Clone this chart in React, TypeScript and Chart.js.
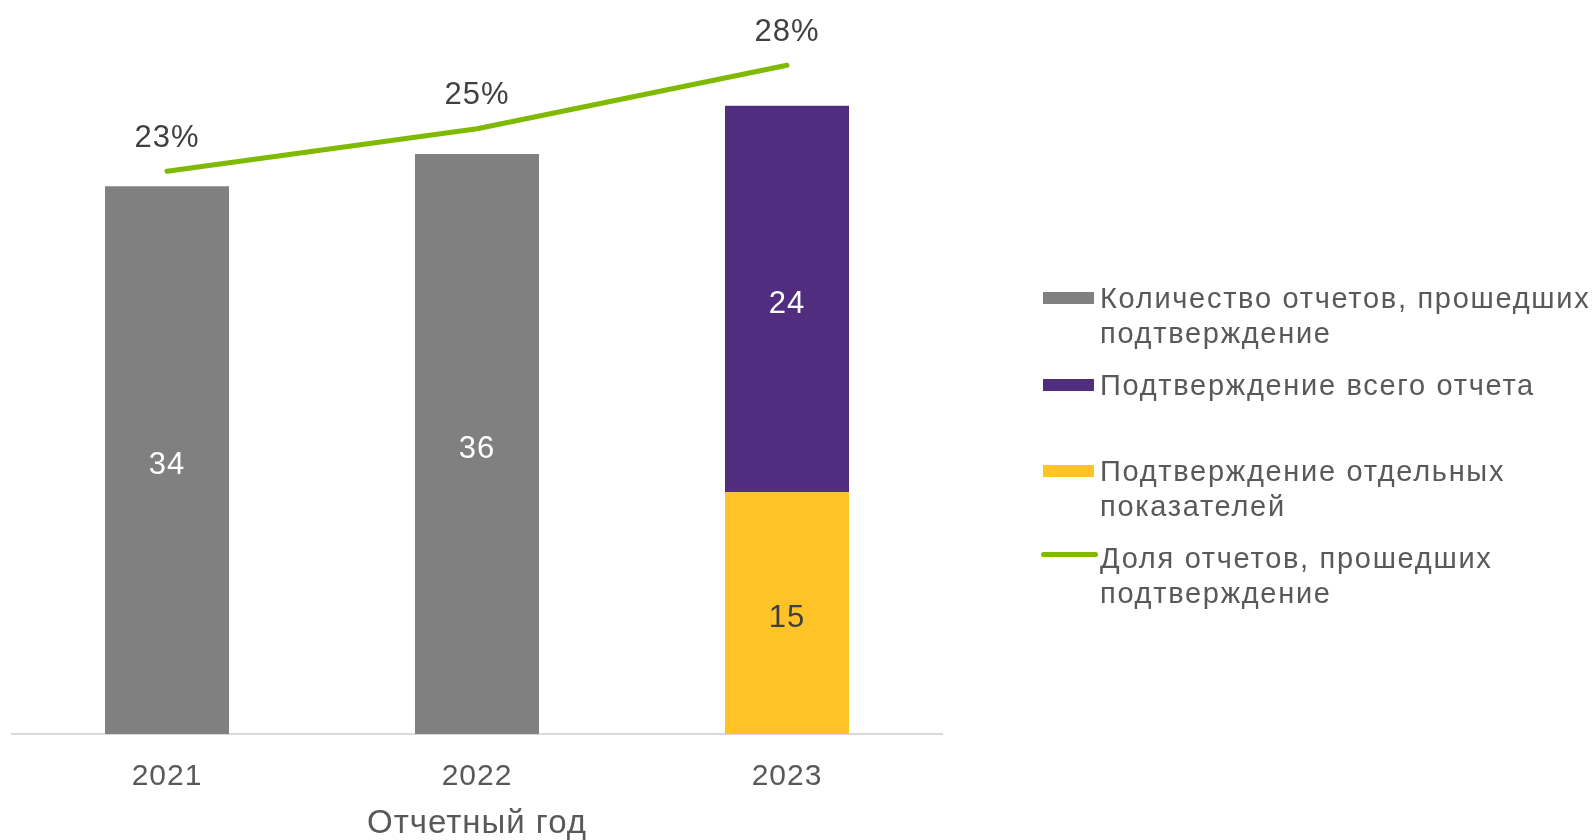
import React, { useEffect, useRef } from "react";
import { Chart, registerables } from "chart.js";

Chart.register(...registerables);

const FONT = "'Liberation Sans', Arial, sans-serif";

const years = ["2021", "2022", "2023"];
const confirmedReports = [34, 36, null];
const partialConfirmation = [null, null, 15];
const fullConfirmation = [null, null, 24];
const confirmedShare = [23, 25, 28];

const xTitle = "Отчетный год";

const colGrey = "#808080";
const colPurple = "#502D7F";
const colYellow = "#FFC328";
const colGreen = "#7FBA00";

const legendItems = [
  { kind: "box", color: colGrey, lines: ["Количество отчетов, прошедших", "подтверждение"], y: 298 },
  { kind: "box", color: colPurple, lines: ["Подтверждение всего отчета"], y: 385 },
  { kind: "box", color: colYellow, lines: ["Подтверждение отдельных", "показателей"], y: 471 },
  { kind: "line", color: colGreen, lines: ["Доля отчетов, прошедших", "подтверждение"], y: 558 },
];

const spacingPlugin = {
  id: "spacing",
  beforeDraw(chart: any) {
    (chart.ctx as any).letterSpacing = "1px";
  },
};

const labelPlugin = {
  id: "valueLabels",
  afterDatasetsDraw(chart: any) {
    const ctx = chart.ctx;
    ctx.save();
    ctx.textAlign = "center";
    ctx.textBaseline = "middle";
    chart.data.datasets.forEach((ds: any, di: number) => {
      const meta = chart.getDatasetMeta(di);
      meta.data.forEach((el: any, i: number) => {
        const v = ds.data[i];
        if (v === null || v === undefined) return;
        if (ds.type === "line") {
          ctx.font = `31px ${FONT}`;
          ctx.fillStyle = "#404040";
          ctx.fillText(`${v}%`, el.x, el.y - 33);
        } else {
          ctx.font = `31px ${FONT}`;
          ctx.fillStyle = ds.labelColor;
          ctx.fillText(String(v), el.x, (el.y + el.base) / 2 + 5);
        }
      });
    });
    ctx.restore();
  },
};

export default function App() {
  const ref = useRef<HTMLCanvasElement>(null);

  useEffect(() => {
    if (!ref.current) return;
    const chart = new Chart(ref.current, {
      type: "bar",
      data: {
        labels: years,
        datasets: [
          {
            type: "line",
            label: "Доля отчетов, прошедших подтверждение",
            data: confirmedShare,
            yAxisID: "y2",
            borderColor: colGreen,
            borderWidth: 5,
            borderCapStyle: "round",
            borderJoinStyle: "round",
            pointRadius: 0,
            tension: 0,
            order: 0,
          } as any,
          {
            label: "Количество отчетов, прошедших подтверждение",
            data: confirmedReports,
            backgroundColor: colGrey,
            yAxisID: "y",
            order: 1,
            labelColor: "#ffffff",
          } as any,
          {
            label: "Подтверждение отдельных показателей",
            data: partialConfirmation,
            backgroundColor: colYellow,
            yAxisID: "y",
            order: 1,
            labelColor: "#404040",
          } as any,
          {
            label: "Подтверждение всего отчета",
            data: fullConfirmation,
            backgroundColor: colPurple,
            yAxisID: "y",
            order: 1,
            labelColor: "#ffffff",
          } as any,
        ],
      },
      options: {
        responsive: false,
        animation: false,
        barPercentage: 0.4,
        categoryPercentage: 1,
        layout: { padding: { left: 12, right: 654, top: 9, bottom: 0 } },
        plugins: { legend: { display: false }, tooltip: { enabled: false } },
        scales: {
          x: {
            stacked: true,
            grid: { display: false, drawTicks: false },
            border: { display: true, color: "#d9d9d9", width: 2 },
            ticks: { padding: 25, color: "#595959", font: { size: 30, family: FONT } },
            title: {
              display: true,
              text: xTitle,
              color: "#595959",
              font: { size: 33, family: FONT, lineHeight: 1.0 },
              padding: { top: 0, bottom: 0 },
            },
            afterFit(scale: any) {
              scale.height = 106;
            },
          },
          y: { stacked: true, display: false, min: 0, max: 45 },
          y2: { display: false, min: -3.55, max: 30.65, position: "right" },
        },
      } as any,
      plugins: [spacingPlugin, labelPlugin],
    });
    return () => chart.destroy();
  }, []);

  return (
    <div style={{ position: "absolute", left: 0, top: 0, width: 1596, height: 840, background: "#fff" }}>
      <canvas ref={ref} width={1596} height={840} style={{ position: "absolute", left: 0, top: 0 }} />
      {legendItems.map((it, k) => (
        <div key={k}>
          {it.kind === "box" ? (
            <div
              style={{
                position: "absolute",
                left: 1043,
                top: it.y - 6,
                width: 51,
                height: 12,
                background: it.color,
              }}
            />
          ) : (
            <div
              style={{
                position: "absolute",
                left: 1041,
                top: it.y - 6,
                width: 57,
                height: 5,
                borderRadius: 3,
                background: it.color,
              }}
            />
          )}
          {it.lines.map((ln, j) => (
            <div
              key={j}
              style={{
                position: "absolute",
                left: 1100,
                top: it.y - 17.5 + j * 35,
                height: 35,
                lineHeight: "35px",
                fontSize: 29,
                letterSpacing: "1.7px",
                fontFamily: FONT,
                color: "#595959",
                whiteSpace: "nowrap",
              }}
            >
              {ln}
            </div>
          ))}
        </div>
      ))}
    </div>
  );
}
